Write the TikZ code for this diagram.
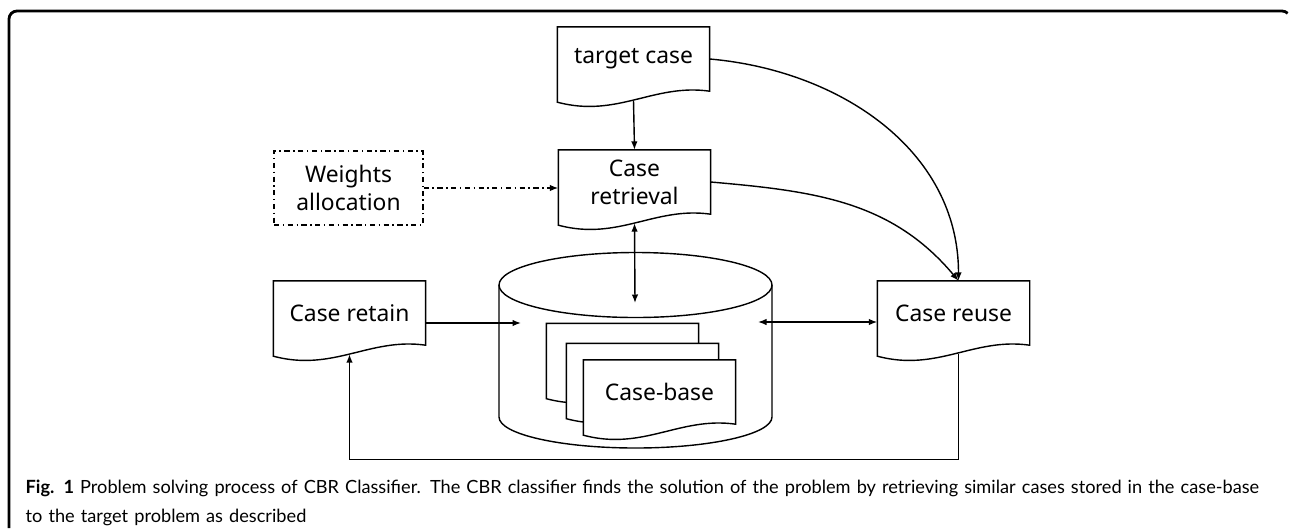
\documentclass[tikz,border=0pt]{standalone}
\usepackage{fontspec}
\setmainfont{Noto Sans}
\newfontfamily\capfont{Lato}
\usepackage{tikz}
\usetikzlibrary{arrows.meta,calc}
\newcommand{\boxfont}{\fontsize{13}{16}\selectfont}

\tikzset{
  doc/.style={minimum width=3.02cm, minimum height=1.26cm, inner sep=0pt, align=center, font=\boxfont,
    append after command={\pgfextra{\filldraw[fill=white]
      (\tikzlastnode.south east) -- (\tikzlastnode.north east) -- (\tikzlastnode.north west)
      -- ([yshift=-0.22cm]\tikzlastnode.south west)
      .. controls +(1.2cm,-0.32cm) and +(-1.12cm,0.16cm) .. (\tikzlastnode.south east) -- cycle;}}},
  wbox/.style={draw, dash pattern=on 3pt off 2pt on 0.8pt off 2pt, minimum width=2.98cm,
    minimum height=1.48cm, inner sep=0pt, align=center, font=\boxfont},
  arr/.style={-{Latex[length=1.7mm,width=1.3mm]}},
  biarr/.style={{Latex[length=1.7mm,width=1.3mm]}-{Latex[length=1.7mm,width=1.3mm]}},
}

\begin{document}
\begin{tikzpicture}[x=0.02cm, y=0.02cm, line width=0.8pt]
\useasboundingbox (0,0) rectangle (1290,-528);

% frame of the figure
\draw[line width=1.6pt] (9,-528) -- (9,-19) arc[start angle=180, end angle=90, radius=8]
  -- (1282,-11) arc[start angle=90, end angle=45, radius=8];

% data store
\draw (499,-285) -- (499,-417) arc[start angle=180, end angle=360, x radius=136.5, y radius=31] -- (772,-285);
\draw (635.5,-285) ellipse[x radius=136.5, y radius=32.5];
\coordinate (dbtop) at (635,-303);
\coordinate (dbleft) at (521,-323);
\coordinate (dbright) at (758,-322);

\node[doc] (cb1) at (622.5,-355.5) {};
\node[doc] (cb2) at (642.5,-375.5) {};
\node[doc] (cb3) at (659.5,-392) {Case-base};

% process steps
\node[doc] (target) at (633.5,-59) {target case};
\node[doc] (retrieval) at (634.5,-182) {Case\\retrieval};
\node[wbox] (weights) at (348.5,-188) {Weights\\allocation};
\node[doc] (retain) at (349.5,-313) {Case retain};
\node[doc] (reuse) at (953.5,-313) {Case reuse};

\draw[arr] ([yshift=-0.19cm]target.south) -- (retrieval.north);
\draw[arr, dash pattern=on 3pt off 2pt on 0.8pt off 2pt] (weights.east) -- (weights.east -| retrieval.west);
\draw[biarr] ([yshift=-0.18cm]retrieval.south) -- (dbtop);
\draw[arr] (retain.east |- dbleft) -- (dbleft);
\draw[biarr] (dbright) -- (dbright -| reuse.west);
\draw[arr] (target.east) to[out=-5, in=90] ([xshift=0.1cm]reuse.north);
\draw[arr] (retrieval.east) to[out=-5, in=130] ([xshift=0.1cm]reuse.north);
\draw[arr] ([xshift=0.1cm,yshift=-0.18cm]reuse.south) -- ++(0,-105) -| ([yshift=-0.18cm]retain.south);

% caption
\node[anchor=base west, text width=25.4cm, align=left, inner sep=0pt,
  font=\capfont\fontsize{10.35}{17}\selectfont] (caption) at (25,-493)
  {\textbf{Fig. 1} Problem solving process of CBR Classifier. The CBR classifier finds the solution of the problem by retrieving similar cases stored in the case-base\\
  to the target problem as described};
\end{tikzpicture}
\end{document}
